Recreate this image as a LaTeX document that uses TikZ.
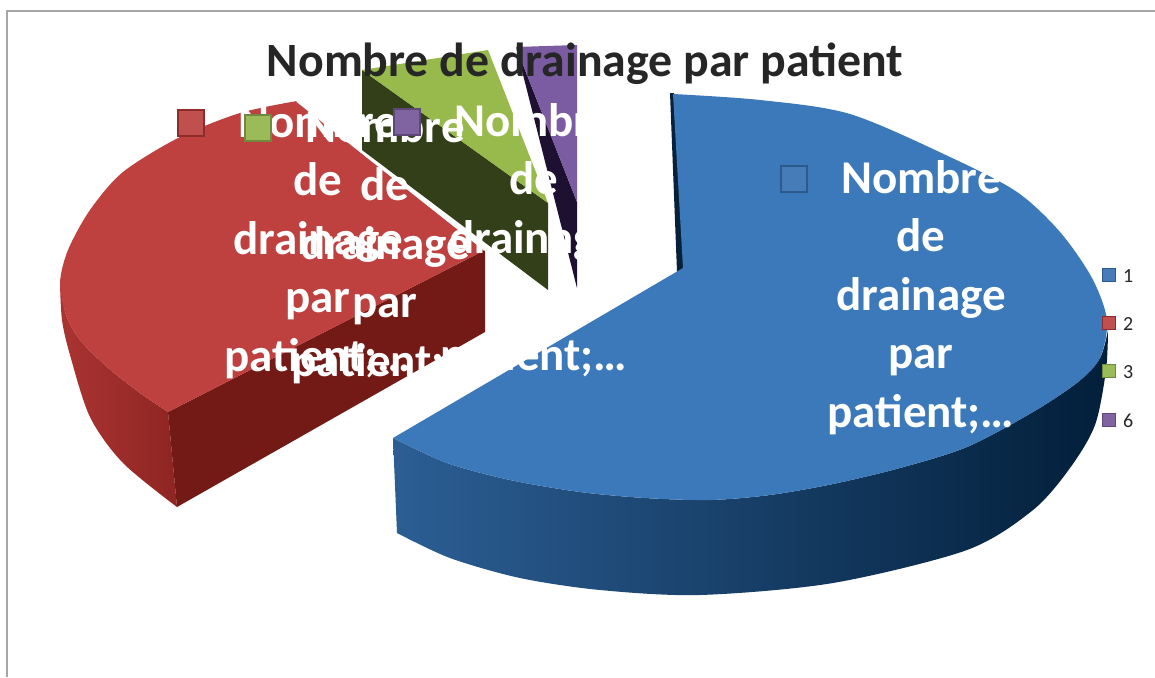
\documentclass[tikz,border=0pt]{standalone}
\usepackage{fontspec}
\setmainfont{Carlito}
\definecolor{btop}{RGB}{60,121,186}
\definecolor{bsideL}{RGB}{44,94,148}
\definecolor{bsideM}{RGB}{17,58,100}
\definecolor{bsideR}{RGB}{2,31,58}
\definecolor{bstrip}{RGB}{8,33,58}
\definecolor{rtop}{RGB}{190,65,63}
\definecolor{rcut}{RGB}{115,25,22}
\definecolor{rsideL}{RGB}{170,52,50}
\definecolor{rsideR}{RGB}{142,37,34}
\definecolor{gtop}{RGB}{152,185,76}
\definecolor{gcut}{RGB}{50,63,24}
\definecolor{ptop}{RGB}{123,91,161}
\definecolor{pcut}{RGB}{30,16,48}
\definecolor{kblueF}{RGB}{70,125,185}
\definecolor{kblueD}{RGB}{45,90,140}
\definecolor{kredF}{RGB}{192,80,77}
\definecolor{kredD}{RGB}{140,45,43}
\definecolor{kgreenF}{RGB}{155,187,89}
\definecolor{kgreenD}{RGB}{113,137,63}
\definecolor{kpurpF}{RGB}{128,100,162}
\definecolor{kpurpD}{RGB}{94,73,118}
\definecolor{titlegray}{RGB}{38,38,38}
\definecolor{framegray}{RGB}{166,166,166}
\newcommand{\drlabel}[5]{%
  \node[keysq,fill=#4,draw=#5] (#1k) at ({#2-127},{#3-14}) {};
  \foreach \t [count=\i] in {Nombre,de,drainage,par,{patient;…}}
    \node[lbl] (#1\i) at ({#2},{#3+58.5*(\i-1)}) {\t};
}
\begin{document}
\begin{tikzpicture}[x=1pt,y=-1pt,
  lbl/.style={text=white,font=\bfseries\fontsize{47}{56}\selectfont,anchor=base,inner sep=0pt},
  keysq/.style={minimum size=26pt,inner sep=0pt,line width=1.2pt,rectangle},
  legsq/.style={minimum size=13pt,inner sep=0pt,line width=1pt,rectangle},
  legtxt/.style={font=\fontsize{20}{24}\selectfont,text=titlegray,anchor=base west,inner sep=0pt}]
\useasboundingbox (0,0) rectangle (1155,677);
\fill[white] (0,0) rectangle (1155,677);
\draw[framegray,line width=1.5pt] (7,677) -- (7,11) -- (1155,11);

% green slice
\fill[gcut] (362,70) -- (548,203) -- (548,290) -- (362,150) -- cycle;
\fill[gtop] (362,70) -- (488,50) -- (548,203) -- cycle;
% purple slice
\fill[pcut] (516,47) -- (577,202) -- (577,288) -- cycle;
\fill[ptop] (516,47) -- (577,45) -- (577,202) -- cycle;
% red slice
\shade[left color=rsideL,right color=rsideR] plot[smooth] coordinates {(60,283) (62,320) (70,355) (90,417) (123,463) (177,507)} -- (168,412) -- plot[smooth] coordinates {(168,412) (140,393) (107,367) (80,340) (66,315) (60,283)} -- cycle;
\fill[rcut] (168,412) -- (485,250) -- (485,332) -- (177,507) -- cycle;
\fill[rtop] (485,250) -- (297,101) -- plot[smooth] coordinates {(297,101) (240,113) (180,137) (123,172) (90,210) (68,250) (60,283) (66,315) (80,340) (107,367) (140,393) (168,412)} -- cycle;
\draw[white,line width=2pt] (297,101) -- (485,250);
% blue slice
\shade[left color=bsideL,middle color=bsideM,right color=bsideR] (393,438) -- plot[smooth] coordinates {(397,533) (450,558) (520,578) (600,590) (700,595) (833,583) (967,550) (1033,510) (1070,468) (1095,425) (1106,370) (1108,330)} -- plot[smooth] coordinates {(1108,330) (1100,358) (1078,382) (1033,412) (967,447) (900,468) (833,484) (770,495) (710,500) (645,498) (580,492) (510,480) (447,463) (393,438)} -- cycle;
\fill[bstrip] (670,93) -- (674,93) -- (684,268) -- (677,272) -- cycle;
\fill[btop] (683,268) -- plot[smooth] coordinates {(673,94) (760,100) (850,114) (950,157) (1017,192) (1060,232) (1092,278) (1107,320) (1100,358) (1078,382) (1033,412) (967,447) (900,468) (833,484) (770,495) (710,500) (645,498) (580,492) (510,480) (447,463) (393,438)} -- cycle;

% title
\node[font=\bfseries\fontsize{47.8}{57}\selectfont,text=titlegray,anchor=base,inner sep=0pt] (title) at (585,76) {Nombre de drainage par patient};

% data labels
\drlabel{A}{318}{137}{kredF}{kredD}
\drlabel{B}{385}{142}{kgreenF}{kgreenD}
\drlabel{C}{534}{136}{kpurpF}{kpurpD}
\drlabel{D}{921}{193}{kblueF}{kblueD}

% legend
\node[legsq,fill=kblueF,draw=kblueD] (lg1) at (1108.5,274.5) {};
\node[legtxt] (lt1) at (1123,282) {1};
\node[legsq,fill=kredF,draw=kredD] (lg2) at (1108.5,322.5) {};
\node[legtxt] (lt2) at (1123,330) {2};
\node[legsq,fill=kgreenF,draw=kgreenD] (lg3) at (1108.5,370.5) {};
\node[legtxt] (lt3) at (1123,378) {3};
\node[legsq,fill=kpurpF,draw=kpurpD] (lg4) at (1108.5,419.5) {};
\node[legtxt] (lt4) at (1123,427) {6};
\end{tikzpicture}
\end{document}
